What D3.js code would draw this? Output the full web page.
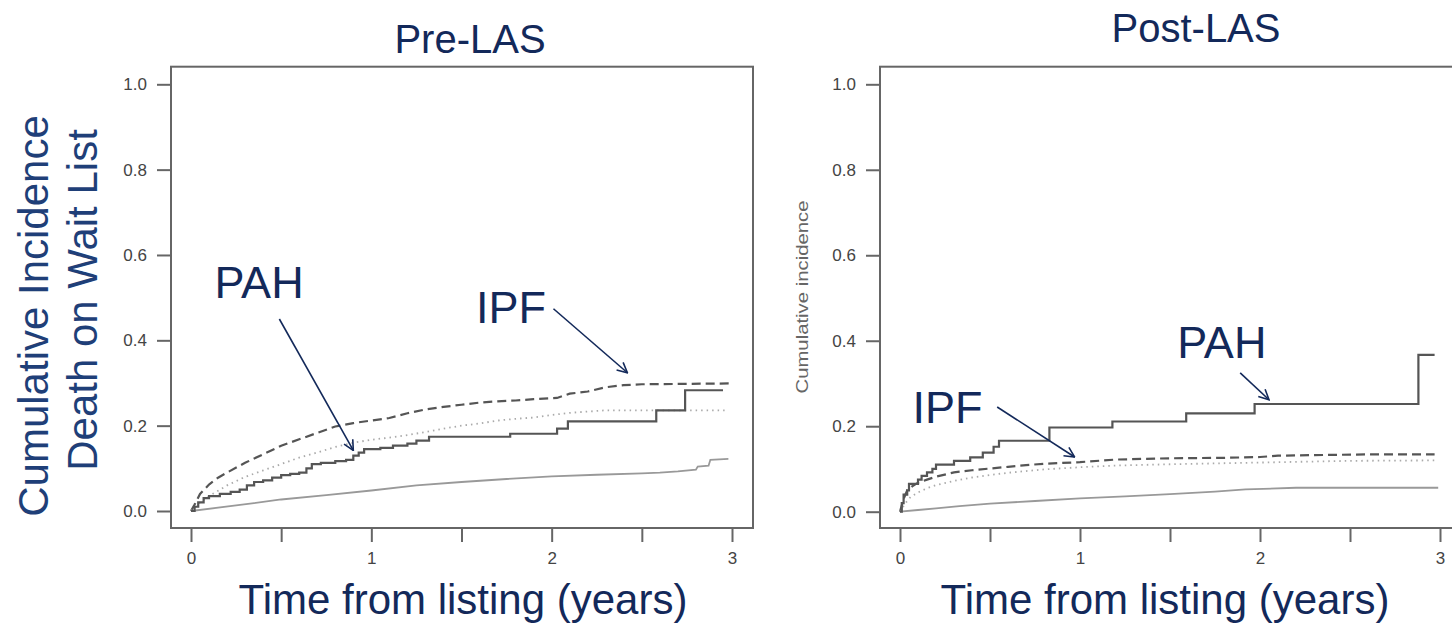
<!DOCTYPE html>
<html><head><meta charset="utf-8">
<script src="https://cdn.jsdelivr.net/npm/d3@7"></script>
<style>body{margin:0;background:#fff}svg{display:block}</style>
</head><body><svg id="c" width="1452" height="624"></svg>
<script>
// ---- data ----
const yTicks = [0, 0.2, 0.4, 0.6, 0.8, 1.0];
const xTicks = [0, 0.5, 1, 1.5, 2, 2.5, 3];
const xTickLabels = ["0", "", "1", "", "2", "", "3"];
const panelTitles = ["Pre-LAS", "Post-LAS"];

// Pre-LAS
const preIPF = [[0,0],[0.02,0.015],[0.05,0.04],[0.1,0.062],[0.15,0.078],[0.2,0.09],[0.3,0.113],[0.4,0.133],[0.5,0.153],[0.6,0.168],[0.7,0.183],[0.8,0.198],[0.9,0.206],[1.0,0.212],[1.1,0.218],[1.2,0.229],[1.3,0.238],[1.4,0.244],[1.5,0.249],[1.6,0.254],[1.7,0.257],[1.8,0.259],[1.9,0.262],[2.03,0.265],[2.1,0.275],[2.2,0.28],[2.3,0.29],[2.4,0.295],[2.5,0.297],[3.0,0.299]];
const prePAH = [[0,0],[0.02,0.01],[0.04,0.02],[0.07,0.03],[0.1,0.035],[0.16,0.04],[0.22,0.045],[0.27,0.05],[0.31,0.06],[0.35,0.068],[0.4,0.072],[0.45,0.078],[0.5,0.084],[0.55,0.087],[0.6,0.09],[0.64,0.1],[0.67,0.11],[0.72,0.113],[0.8,0.117],[0.86,0.12],[0.9,0.13],[0.93,0.137],[0.96,0.145],[1.05,0.148],[1.12,0.153],[1.2,0.158],[1.25,0.165],[1.32,0.174],[1.77,0.181],[2.03,0.193],[2.09,0.21],[2.58,0.236],[2.74,0.283],[2.95,0.283]];
const preDot = [[0,0],[0.05,0.02],[0.1,0.035],[0.2,0.06],[0.3,0.08],[0.4,0.095],[0.5,0.11],[0.6,0.125],[0.7,0.137],[0.8,0.15],[0.9,0.16],[1.0,0.167],[1.1,0.172],[1.2,0.178],[1.3,0.185],[1.4,0.193],[1.5,0.2],[1.6,0.205],[1.7,0.212],[1.8,0.216],[1.9,0.219],[2.0,0.225],[2.1,0.23],[2.2,0.233],[2.3,0.236],[2.98,0.236]];
const preLight = [[0,0],[0.25,0.013],[0.5,0.027],[0.75,0.037],[1.0,0.048],[1.25,0.06],[1.5,0.068],[1.75,0.075],[2.0,0.081],[2.25,0.085],[2.5,0.088],[2.6,0.09],[2.7,0.093],[2.8,0.097],[2.81,0.104],[2.87,0.106],[2.88,0.12],[2.98,0.122]];

// Post-LAS
const postPAH = [[0,0],[0.01,0.02],[0.02,0.04],[0.04,0.05],[0.05,0.065],[0.08,0.065],[0.1,0.075],[0.12,0.084],[0.15,0.092],[0.18,0.1],[0.2,0.11],[0.3,0.119],[0.39,0.127],[0.46,0.138],[0.52,0.152],[0.55,0.166],[0.83,0.197],[1.18,0.211],[1.59,0.23],[1.97,0.252],[2.88,0.367],[2.97,0.367]];
const postIPF = [[0,0],[0.02,0.03],[0.04,0.05],[0.07,0.06],[0.1,0.068],[0.15,0.075],[0.2,0.082],[0.3,0.092],[0.4,0.097],[0.5,0.101],[0.6,0.105],[0.7,0.109],[0.8,0.112],[0.9,0.114],[1.0,0.116],[1.2,0.122],[1.5,0.125],[1.8,0.126],[2.0,0.128],[2.1,0.131],[2.4,0.133],[2.6,0.134],[2.97,0.134]];
const postDot = [[0,0],[0.03,0.02],[0.06,0.035],[0.1,0.045],[0.15,0.055],[0.2,0.062],[0.3,0.072],[0.4,0.08],[0.5,0.086],[0.6,0.091],[0.7,0.095],[0.8,0.099],[1.0,0.104],[1.2,0.108],[1.5,0.111],[2.0,0.115],[2.5,0.119],[2.97,0.12]];
const postLight = [[0,0],[0.1,0.004],[0.2,0.008],[0.33,0.013],[0.5,0.019],[0.75,0.025],[1.0,0.031],[1.25,0.036],[1.5,0.041],[1.75,0.047],[1.92,0.052],[2.2,0.056],[2.99,0.056]];

// annotation labels (value coordinates: label anchor, arrow start, arrow tip)
const preLabels = [
  {text:"PAH", tx:0.13, ty:0.5, from:[0.49,0.45], to:[0.9,0.142]},
  {text:"IPF", tx:1.58, ty:0.44, from:[2.01,0.474], to:[2.42,0.324]}
];
const postLabels = [
  {text:"PAH", tx:1.54, ty:0.36, from:[1.89,0.325], to:[2.05,0.262]},
  {text:"IPF", tx:0.07, ty:0.207, from:[0.54,0.245], to:[0.97,0.128]}
];

// ---- drawing ----
const svg = d3.select("#c");
const navy = "#13295a";
const font = "Liberation Sans, Arial, sans-serif";

const panels = [
  {box:[171,753,66.7,528], xr:[191,732], yr:[511,84.3], title:panelTitles[0], tx:470, ty:53,
   series:[{d:preIPF,t:"dash"},{d:preDot,t:"dot"},{d:preLight,t:"light"},{d:prePAH,t:"pah"}], labels:preLabels, xtitle:463},
  {box:[880,1462,66.7,528], xr:[900,1440], yr:[511.7,84.3], title:panelTitles[1], tx:1196, ty:42,
   series:[{d:postIPF,t:"dash"},{d:postDot,t:"dot"},{d:postLight,t:"light"},{d:postPAH,t:"pah"}], labels:postLabels, xtitle:1165}
];

const defs = svg.append("defs");
defs.append("marker").attr("id","arr").attr("viewBox","0 0 12 12").attr("refX",11).attr("refY",6)
  .attr("markerWidth",12).attr("markerHeight",12).attr("markerUnits","userSpaceOnUse").attr("orient","auto")
  .append("path").attr("d","M1,1 L11,6 L1,11").attr("fill","none").attr("stroke",navy).attr("stroke-width",1.6);

const styles = {
  dash:{stroke:"#555", w:2.2, da:"9,5", curve:d3.curveLinear},
  dot:{stroke:"#aaa", w:1.8, da:"1.5,4", curve:d3.curveLinear},
  light:{stroke:"#999", w:1.8, da:null, curve:d3.curveLinear},
  pah:{stroke:"#555", w:2.2, da:null, curve:d3.curveStepAfter}
};

panels.forEach(p => {
  const x = d3.scaleLinear().domain([0,3]).range(p.xr);
  const y = d3.scaleLinear().domain([0,1]).range(p.yr);
  const [bl,br,bt,bb] = p.box;
  const g = svg.append("g");

  p.series.forEach(s => {
    const st = styles[s.t];
    const line = d3.line().x(d=>x(d[0])).y(d=>y(d[1])).curve(st.curve);
    g.append("path").datum(s.d).attr("d",line).attr("fill","none")
      .attr("stroke",st.stroke).attr("stroke-width",st.w).attr("stroke-dasharray",st.da);
  });

  g.append("rect").attr("x",bl).attr("y",bt).attr("width",br-bl).attr("height",bb-bt)
    .attr("fill","none").attr("stroke","#666").attr("stroke-width",2);

  const ya = g.append("g").attr("transform",`translate(${bl},0)`)
    .call(d3.axisLeft(y).tickValues(yTicks).tickFormat(d3.format(".1f")).tickSize(14).tickPadding(10));
  ya.select(".domain").remove();
  ya.selectAll("line").attr("stroke","#666").attr("stroke-width",2);
  ya.selectAll("text").attr("fill","#444").style("font-family",font).style("font-size","17px");

  const xa = g.append("g").attr("transform",`translate(0,${bb})`)
    .call(d3.axisBottom(x).tickValues(xTicks).tickFormat((d,i)=>xTickLabels[i]).tickSize(14).tickPadding(10));
  xa.select(".domain").remove();
  xa.selectAll("line").attr("stroke","#666").attr("stroke-width",2);
  xa.selectAll("text").attr("fill","#444").style("font-family",font).style("font-size","17px");

  g.append("text").attr("x",p.tx).attr("y",p.ty).attr("text-anchor","middle")
    .attr("fill",navy).style("font-family",font).style("font-size","40px").text(p.title);
  g.append("text").attr("x",p.xtitle).attr("y",614).attr("text-anchor","middle")
    .attr("fill",navy).style("font-family",font).style("font-size","42px").text("Time from listing (years)");

  p.labels.forEach(l => {
    g.append("text").attr("x",x(l.tx)).attr("y",y(l.ty)).attr("fill",navy)
      .style("font-family",font).style("font-size","45px").text(l.text);
    g.append("line").attr("x1",x(l.from[0])).attr("y1",y(l.from[1])).attr("x2",x(l.to[0])).attr("y2",y(l.to[1]))
      .attr("stroke",navy).attr("stroke-width",1.6).attr("marker-end","url(#arr)");
  });
});

svg.append("text").attr("transform","translate(48,316) rotate(-90)").attr("text-anchor","middle")
  .attr("fill","#1f3f78").style("font-family",font).style("font-size","42px").text("Cumulative Incidence");
svg.append("text").attr("transform","translate(97,300) rotate(-90)").attr("text-anchor","middle")
  .attr("fill","#1f3f78").style("font-family",font).style("font-size","42px").text("Death on Wait List");
svg.append("text").attr("transform","translate(808,297) rotate(-90)").attr("text-anchor","middle")
  .attr("fill","#666").style("font-family",font).style("font-size","17px")
  .attr("textLength",193).attr("lengthAdjust","spacingAndGlyphs").text("Cumulative incidence");
</script></body></html>
